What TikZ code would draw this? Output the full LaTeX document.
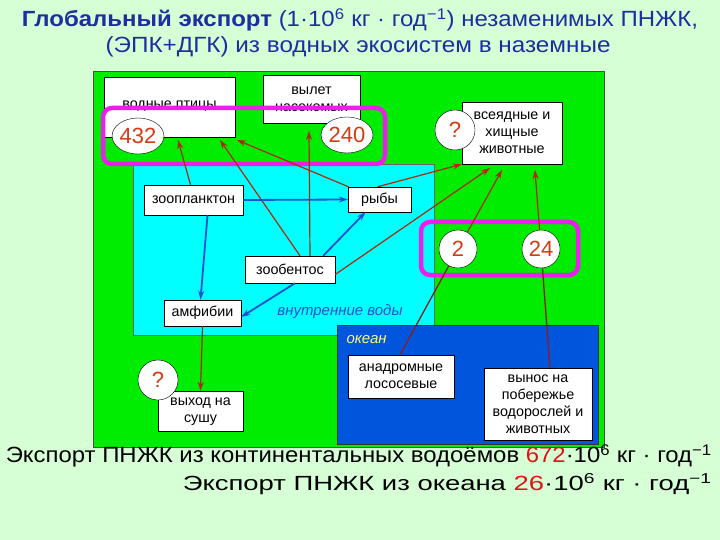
\documentclass[tikz,border=0pt]{standalone}
\usepackage{fontspec}
\setmainfont{Liberation Sans}
\usetikzlibrary{arrows.meta,shapes.geometric}
\definecolor{bggreen}{RGB}{214,255,214}
\definecolor{mgreen}{RGB}{0,236,0}
\definecolor{mcyan}{RGB}{0,255,255}
\definecolor{ocean}{RGB}{0,85,221}
\definecolor{mmag}{RGB}{236,30,236}
\definecolor{arred}{RGB}{176,40,10}
\definecolor{lnred}{RGB}{140,30,30}
\definecolor{arblue}{RGB}{30,80,210}
\definecolor{numred}{RGB}{210,60,20}
\definecolor{ttl}{RGB}{30,45,160}
\definecolor{expred}{RGB}{220,20,20}
\begin{document}
\begin{tikzpicture}[x=1pt,y=-1pt,
  box/.style={draw=black,fill=white,align=center,font=\fontsize{14.3}{17}\selectfont,inner sep=2pt},
  num/.style={draw=black,fill=white,ellipse,font=\fontsize{22}{22}\selectfont,text=numred,inner sep=0pt},
  rarr/.style={draw=arred,line width=1.2pt,-{Stealth[length=9pt,width=6pt]}},
  rline/.style={draw=lnred,line width=1.3pt},
  barr/.style={draw=arblue,line width=1.8pt,-{Stealth[length=9pt,width=6pt]}},
  frame/.style={draw=mmag,line width=4.5pt,rounded corners=9pt}]
\fill[bggreen] (0,0) rectangle (720,540);
\useasboundingbox (0,0) rectangle (720,540);
\fill[mgreen] (93,71) rectangle (604,447);
\draw[black!70] (93,71) rectangle (604,447);
\fill[mcyan] (133,164) rectangle (434,335);
\draw[black!60] (133,164) rectangle (434,335);
\fill[ocean] (337,325) rectangle (598,444);
\draw[black!80] (337,325) rectangle (598,444);
\node[font=\fontsize{15}{16}\selectfont\itshape,text=arblue] (iw) at (340,312) {внутренние воды};
\node[font=\fontsize{15}{16}\selectfont\itshape,text=yellow!50!white,anchor=west] (oc) at (343,340) {океан};
% title
\node[font=\fontsize{22}{24}\selectfont,text=ttl] (t1) at (360,20)
 {\resizebox{676pt}{\height}{\textbf{Глобальный экспорт} (1·10\textsuperscript{6} кг · год\textsuperscript{−1}) незаменимых ПНЖК,}};
\node[font=\fontsize{22}{24}\selectfont,text=ttl] (t2) at (358,47)
 {\resizebox{505pt}{\height}{(ЭПК+ДГК) из водных экосистем в наземные}};
% boxes
\node[box,minimum width=131pt,minimum height=60pt] (birds) at (169.5,107) {};
\node[font=\fontsize{14.3}{14}\selectfont] (birdst) at (169.5,106) {водные птицы};
\node[box,minimum width=97pt,minimum height=48pt] (fly) at (311.5,99) {вылет\\насекомых};
\node[box,minimum width=100pt,minimum height=62pt] (omni) at (512,133) {всеядные и\\хищные\\животные};
\node[box,minimum width=99pt,minimum height=30pt] (zp) at (193.5,200) {зоопланктон};
\node[box,minimum width=63pt,minimum height=25pt] (fish) at (379.5,199.5) {рыбы};
\node[box,minimum width=90pt,minimum height=27pt] (zb) at (290,269.5) {зообентос};
\node[box,minimum width=77pt,minimum height=26pt] (amph) at (202.5,313) {амфибии};
\node[box,minimum width=85pt,minimum height=40pt] (land) at (200.5,411) {};
\node[box,minimum width=106pt,minimum height=43pt] (salm) at (401,376.5) {анадромные\\лососевые};
\node[box,minimum width=108pt,minimum height=72pt] (coast) at (538,404) {вынос на\\побережье\\водорослей и\\животных};
% frames
\draw[frame] (103,108) rectangle (385,164);
\draw[frame] (421,222) rectangle (578,275);
\node[num,minimum width=50pt,minimum height=36pt] (n432) at (138,136) {432};
\node[num,minimum width=50pt,minimum height=36pt] (n240) at (347,135) {240};
\node[num,circle,minimum size=40pt] (q1) at (455,130) {?};
\node[num,circle,minimum size=38pt] (n2) at (458,249) {2};
\node[num,circle,minimum size=38pt] (n24) at (541,249) {24};
\node[num,circle,minimum size=40pt] (q2) at (158,380) {?};
\node[box,draw=none,fill=none] (landt) at (200.5,412) {выход на\\сушу};
% red arrows
\coordinate (a1) at (178,140); \coordinate (a2) at (220,140); \coordinate (a3) at (309,131);
\coordinate (a4) at (237,140); \coordinate (a5) at (490,168); \coordinate (a6) at (502,170);
\coordinate (a7) at (535,170);
\draw[rarr] ([xshift=-3pt]zp.north) -- (a1);
\draw[rarr] ([xshift=10pt]zb.north) -- (a2);
\draw[rarr] ([xshift=20pt]zb.north) -- (a3);
\draw[rarr] ([xshift=-31pt]fish.north) -- (a4);
\draw[rarr] ([xshift=-2pt]fish.north) -- (omni.south west);
\draw[rarr] ([yshift=-5pt]zb.east) -- (a5);
\draw[rarr] (n2) -- (a6);
\draw[rarr] (n24) -- (a7);
\draw[rarr] (amph.south) -- (land.north);
\draw[rline] ([xshift=-1pt]salm.north) -- (n2);
\draw[rline] ([xshift=12pt]coast.north) -- (n24);
% blue arrows
\draw[barr] (zp.east) -- (fish.west);
\draw[barr] ([xshift=-12pt]zb.north east) -- ([xshift=-14pt]fish.south);
\draw[barr] ([xshift=14pt]zp.south) -- ([xshift=-2pt]amph.north);
\draw[barr] ([xshift=5pt]zb.south) -- ([yshift=-4pt]amph.east);
% bottom text
\node[font=\fontsize{22}{24}\selectfont,anchor=east,inner sep=0pt] (b1) at (712,456) {\resizebox{706pt}{\height}{Экспорт ПНЖК из континентальных водоёмов \textcolor{expred}{672}·10\textsuperscript{6} кг · год\textsuperscript{−1}}};
\node[font=\fontsize{20.5}{24}\selectfont,anchor=east,inner sep=0pt] (b2) at (712,484) {\resizebox{529pt}{\height}{Экспорт ПНЖК из океана \textcolor{expred}{26}·10\textsuperscript{6} кг · год\textsuperscript{−1}}};
\end{tikzpicture}
\end{document}
